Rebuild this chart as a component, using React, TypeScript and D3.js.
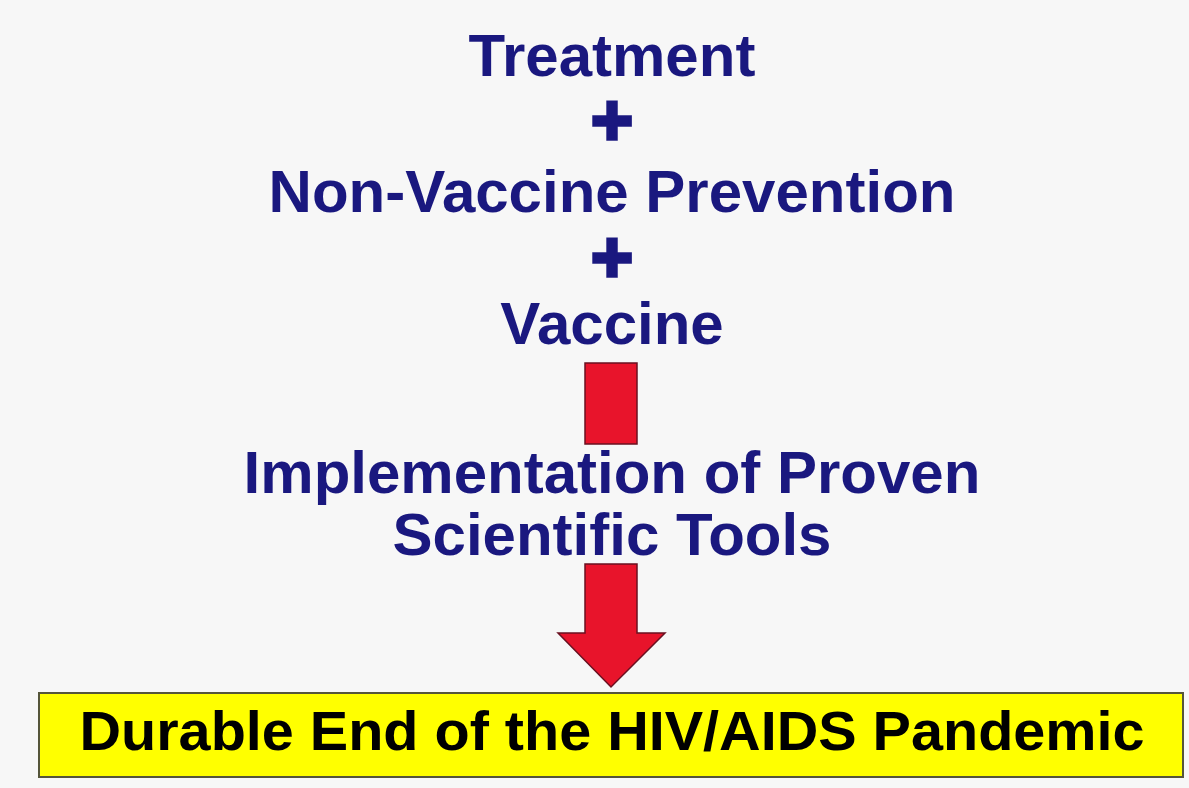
import React from "react";
import * as d3 from "d3";

// Lines of the flow, top to bottom
const topLines = ["Treatment", "+", "Non-Vaccine Prevention", "+", "Vaccine"];
const midLines = ["Implementation of Proven", "Scientific Tools"];
const goalLine = "Durable End of the HIV/AIDS Pandemic";

const W = 1189;
const H = 788;
const NAVY = "#1a187f";
const RED = "#e8142b";
const RED_EDGE = "#6a1020";

export default function App() {
  const cx = 612;

  // baselines of the word lines, vertical centres of the "+" signs
  const topY = [76, 120, 212, 257, 344];
  const plusSize = 72;
  const yMid = d3.scalePoint<number>().domain(d3.range(midLines.length)).range([493, 555]);

  // the two red connectors
  const shaft = { x0: 585, x1: 637 };
  const arrowPath = d3.path();
  arrowPath.moveTo(shaft.x0, 564);
  arrowPath.lineTo(shaft.x1, 564);
  arrowPath.lineTo(shaft.x1, 633);
  arrowPath.lineTo(665, 633);
  arrowPath.lineTo(611, 687);
  arrowPath.lineTo(558, 633);
  arrowPath.lineTo(shaft.x0, 633);
  arrowPath.closePath();

  return (
    <svg
      width={W}
      height={H}
      style={{ position: "absolute", left: 0, top: 0, display: "block" }}
      fontFamily="'Liberation Sans', Arial, sans-serif"
      fontWeight="bold"
    >
      <rect width={W} height={H} fill="#f7f7f7" />

      {topLines.map((t, i) => {
        const plus = t === "+";
        return (
          <text
            key={i}
            x={cx}
            y={plus ? topY[i] + plusSize * 0.354 : topY[i]}
            textAnchor="middle"
            fill={NAVY}
            stroke={plus ? NAVY : "none"}
            strokeWidth={plus ? 3.5 : 0}
            strokeLinejoin="miter"
            fontSize={plus ? plusSize : 60}
          >
            {t}
          </text>
        );
      })}

      <rect
        x={shaft.x0}
        y={363}
        width={shaft.x1 - shaft.x0}
        height={81}
        fill={RED}
        stroke={RED_EDGE}
        strokeWidth={1.5}
      />

      {midLines.map((t, i) => (
        <text key={t} x={cx} y={yMid(i)} textAnchor="middle" fill={NAVY} fontSize={60}>
          {t}
        </text>
      ))}

      <path d={arrowPath.toString()} fill={RED} stroke={RED_EDGE} strokeWidth={1.5} />

      <rect x={39} y={693} width={1144} height={84} fill="#ffff00" stroke="#55553a" strokeWidth={2} />
      <text
        x={cx}
        y={750}
        textAnchor="middle"
        fill="#000"
        fontSize={55}
        textLength={1065}
        lengthAdjust="spacingAndGlyphs"
      >
        {goalLine}
      </text>
    </svg>
  );
}
